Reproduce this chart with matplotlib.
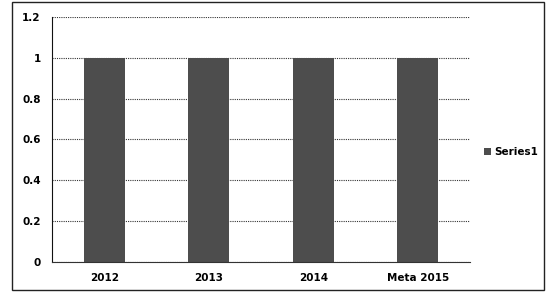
import matplotlib.pyplot as plt
from matplotlib.patches import Rectangle

categories = ['2012', '2013', '2014', 'Meta 2015']
values = [1, 1, 1, 1]
y_ticks = [0, 0.2, 0.4, 0.6, 0.8, 1, 1.2]
y_labels = ['0', '0.2', '0.4', '0.6', '0.8', '1', '1.2']

fig = plt.figure(figsize=(5.46, 2.93), dpi=100)
ax = fig.add_axes([0.095, 0.106, 0.766, 0.836])

# outer chart frame
fig.patches.append(Rectangle((0.022, 0.01), 0.975, 0.982, transform=fig.transFigure,
                             fill=False, edgecolor='#222222', linewidth=1.0))

x = range(len(categories))
ax.bar(x, values, width=0.39, color='#4d4d4d', label='Series1', zorder=2)

ax.set_xlim(-0.5, 3.5)
ax.set_ylim(0, 1.2)
ax.set_yticks(y_ticks)
ax.set_yticklabels(y_labels)
ax.set_xticks(list(x))
ax.set_xticklabels(categories)
ax.grid(axis='y', linestyle=(0, (1, 1)), color='#333333', linewidth=0.8, zorder=1)

for side in ['top', 'right']:
    ax.spines[side].set_visible(False)
ax.spines['left'].set_color('#111111')
ax.spines['bottom'].set_color('#333333')
ax.spines['bottom'].set_linestyle((0, (1, 1)))
ax.tick_params(axis='both', length=0, labelsize=7.5, pad=8)
for lbl in ax.get_xticklabels() + ax.get_yticklabels():
    lbl.set_fontweight('bold')

ax.legend(loc='center left', bbox_to_anchor=(1.01, 0.447), frameon=False,
          prop={'size': 7.5, 'weight': 'bold'}, handlelength=0.7, handleheight=0.7,
          handletextpad=0.3)

fig.savefig('out.png', dpi=100)
